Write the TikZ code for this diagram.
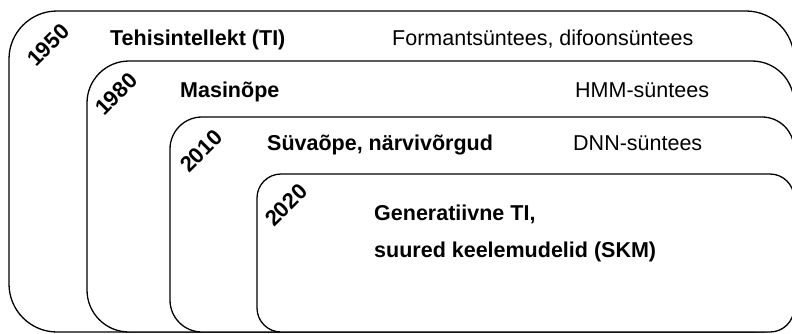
\documentclass[tikz,border=0pt]{standalone}
\usepackage{fontspec}
\setmainfont{Liberation Sans}
\begin{document}
\begin{tikzpicture}[x=1pt,y=-1pt,
  era/.style={draw=black, line width=1.3pt, fill=white},
  lbl/.style={inner sep=0pt, anchor=base west, font=\fontsize{21.5}{26}\selectfont},
  blbl/.style={lbl, font=\fontsize{21.5}{26}\selectfont\bfseries},
  year/.style={inner sep=0pt, rotate=45, font=\fontsize{22}{26}\selectfont\bfseries}]
\useasboundingbox (0,0) rectangle (792,333);
\clip (0,0) rectangle (792,333);
\fill[white] (0,0) rectangle (792,333);
% nested era boxes
\draw[era, rounded corners=48pt] (9,11) rectangle (794,332);
\draw[era, rounded corners=42pt] (87,61) rectangle (794,332);
\draw[era, rounded corners=32pt] (170,117) rectangle (794,332);
\draw[era, rounded corners=24pt] (257,174) rectangle (794,332);
% years
\node[year] (y1950) at (48,45) {1950};
\node[year] (y1980) at (116,94) {1980};
\node[year] (y2010) at (201,151) {2010};
\node[year] (y2020) at (286,205) {2020};
% labels
\node[blbl] (ti) at (110,45) {Tehisintellekt (TI)};
\node[lbl] (form) at (392,45) {Formantsüntees, difoonsüntees};
\node[blbl] (mas) at (180,97) {Masinõpe};
\node[lbl] (hmm) at (575,97) {HMM-süntees};
\node[blbl] (suva) at (267,150) {Süvaõpe, närvivõrgud};
\node[lbl] (dnn) at (573,150) {DNN-süntees};
\node[blbl] (gen) at (374,220) {Generatiivne TI,};
\node[blbl] (skm) at (374,257) {suured keelemudelid (SKM)};
\end{tikzpicture}
\end{document}
